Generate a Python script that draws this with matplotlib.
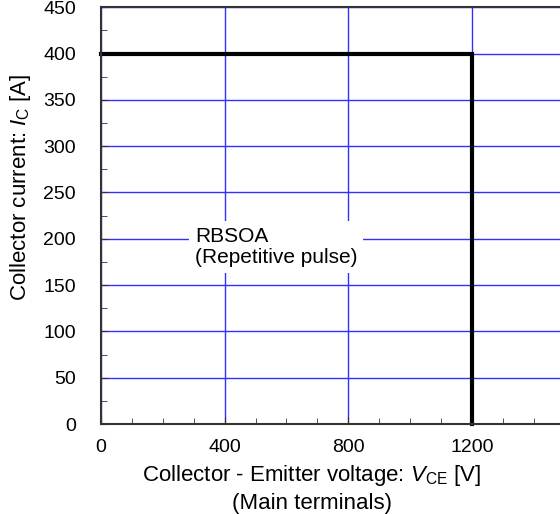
import numpy as np
import matplotlib
matplotlib.use("Agg")
import matplotlib.pyplot as plt
from matplotlib.ticker import MultipleLocator

plt.rcParams["font.family"] = ["Liberation Sans", "DejaVu Sans"]
plt.rcParams["mathtext.fontset"] = "custom"
plt.rcParams["mathtext.rm"] = "Liberation Sans"
plt.rcParams["mathtext.it"] = "Liberation Sans:italic"

# RBSOA boundary (V, A)
vce = [0, 1200, 1200]
ic = [400, 400, 0]

x_ticks = [0, 400, 800, 1200]
y_ticks = [0, 50, 100, 150, 200, 250, 300, 350, 400, 450]

fig = plt.figure(figsize=(5.6, 5.14), dpi=100)
# axes runs past the right edge of the figure, like the original
ax = fig.add_axes([0.180, 0.175, 0.829, 0.811])

ax.set_xlim(0, 1500)
ax.set_ylim(0, 450)
ax.set_xticks(x_ticks)
ax.set_yticks(y_ticks)
ax.xaxis.set_minor_locator(MultipleLocator(100))
ax.yaxis.set_minor_locator(MultipleLocator(25))
ax.tick_params(which="both", direction="in", colors="#333333", labelcolor="black",
               labelsize=14, top=False, right=False)
ax.tick_params(axis="x", which="major", pad=11, length=5)
ax.tick_params(axis="y", which="major", pad=18, length=5)
ax.tick_params(which="minor", length=4)

ax.grid(True, which="major", color="#3030ff", linewidth=1.0)
ax.set_axisbelow(True)
for s in ax.spines.values():
    s.set_color("#333333")
    s.set_linewidth(1.5)

ax.plot(vce, ic, color="black", linewidth=3, solid_joinstyle="miter", clip_on=False)

ax.text(304, 213, "RBSOA\n(Repetitive pulse)", ha="left", va="top", fontsize=15,
        linespacing=1.15,
        bbox=dict(facecolor="white", edgecolor="none", pad=4))

fig.text(21 / 560, 1 - 187 / 514, "Collector current: $I_{\\mathrm{C}}$ [A]",
         rotation=90, ha="center", va="center", fontsize=16)
fig.text(312 / 560, 1 - 481 / 514, "Collector - Emitter voltage: $V_{\\mathrm{CE}}$ [V]",
         ha="center", va="baseline", fontsize=16)
fig.text(312 / 560, 1 - 509 / 514, "(Main terminals)",
         ha="center", va="baseline", fontsize=16)

fig.savefig("out.png", dpi=100)
